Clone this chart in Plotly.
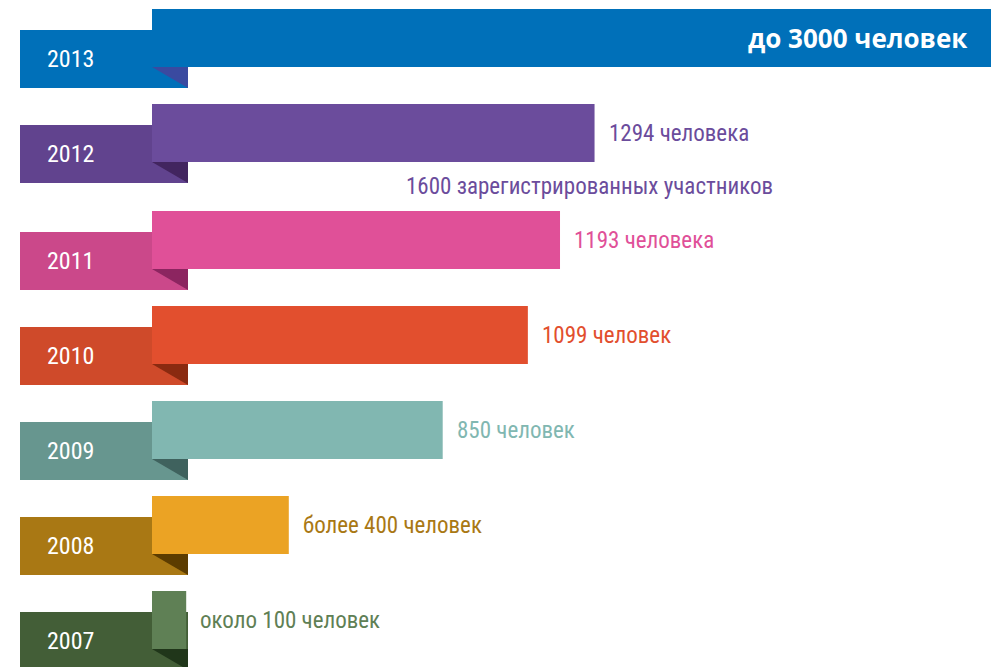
import plotly.graph_objects as go

# ---- data ----
years = ["2013", "2012", "2011", "2010", "2009", "2008", "2007"]
participants = [3000, 1294, 1193, 1099, 850, 400, 100]
value_labels = ["до 3000 человек", "1294 человека", "1193 человека", "1099 человек",
                "850 человек", "более 400 человек", "около 100 человек"]
extra_note = "1600 зарегистрированных участников"

bar_colors = ["#0070b9", "#6b4c9c", "#e05098", "#e24f2e", "#81b7b1", "#eba324", "#5f8055"]
tab_colors = ["#0070b9", "#61438e", "#cb488a", "#cf4a2a", "#67968f", "#a97814", "#435e37"]
fold_colors = ["#3a4aa0", "#42255f", "#8c2560", "#8a2a10", "#3f625e", "#5c3c00", "#20361a"]
text_colors = ["#ffffff", "#6b4c9c", "#e05098", "#e24f2e", "#81b7b1", "#a97814", "#5f8055"]

# ---- layout constants (page has an 8px body margin) ----
OFF = 8
W, H = 999 - OFF, 667 - OFF
PX_PER_UNIT = 0.342          # horizontal scale
ZERO_PX = 152 - OFF          # where the bars start
ROW_PX = 95.0                # row pitch in pixels
FIRST_ROW_PX = 38.0 - OFF    # centre of first bar from top
NOTE_GAP = 12.0 / ROW_PX     # extra space after 2012 row (note line)
BAR_W = 58.0 / ROW_PX
TAB_SHIFT = 21.0 / ROW_PX
TAB_LEFT = (20 - 152) / PX_PER_UNIT
TAB_RIGHT = (188 - 152) / PX_PER_UNIT
RIGHT_MARGIN = 2

rows = [i + (NOTE_GAP if i >= 2 else 0.0) for i in range(len(years))]

x_min = -ZERO_PX / PX_PER_UNIT
x_max = (W - RIGHT_MARGIN - ZERO_PX) / PX_PER_UNIT
y_top = -FIRST_ROW_PX / ROW_PX
y_bot = (H - FIRST_ROW_PX) / ROW_PX

narrow = "Liberation Sans Narrow, Arial Narrow, Roboto Condensed, Liberation Sans, sans-serif"

fig = go.Figure()

# year tabs
fig.add_trace(go.Bar(
    y=rows, x=[TAB_RIGHT - TAB_LEFT] * len(rows), base=[TAB_LEFT] * len(rows),
    orientation="h", width=BAR_W, offset=-BAR_W / 2 + TAB_SHIFT,
    marker=dict(color=tab_colors, line=dict(width=0)), hoverinfo="skip", showlegend=False))

# value bars
fig.add_trace(go.Bar(
    y=rows, x=participants, base=0, orientation="h", width=BAR_W, offset=-BAR_W / 2,
    marker=dict(color=bar_colors, line=dict(width=0)), hoverinfo="skip", showlegend=False))

# folded corners
for r, c in zip(rows, fold_colors):
    yb = r + BAR_W / 2
    fig.add_trace(go.Scatter(
        x=[0, TAB_RIGHT, TAB_RIGHT, 0], y=[yb, yb, yb + TAB_SHIFT, yb],
        mode="lines", fill="toself", fillcolor=c, line=dict(width=0, color=c),
        hoverinfo="skip", showlegend=False))

# year labels
for r, yr in zip(rows, years):
    fig.add_annotation(x=TAB_LEFT, y=r + TAB_SHIFT, text=yr, showarrow=False,
                       xanchor="left", yanchor="middle", xshift=25,
                       font=dict(family=narrow, size=24, color="#ffffff"))

# value labels
for i, (r, v, t, c) in enumerate(zip(rows, participants, value_labels, text_colors)):
    if i == 0:
        fig.add_annotation(xref="paper", x=(970 - OFF) / (W - RIGHT_MARGIN), y=r,
                           text="<b>" + t + "</b>",
                           showarrow=False, xanchor="right", yanchor="middle",
                           font=dict(family="Open Sans, sans-serif", size=26, color=c))
    else:
        fig.add_annotation(x=v, y=r, text=t, showarrow=False, xanchor="left",
                           yanchor="middle", xshift=12,
                           font=dict(family=narrow, size=23, color=c))

# note under 2012
fig.add_annotation(x=participants[1], y=rows[1] + (186 - 133) / ROW_PX, text=extra_note,
                   showarrow=False, xanchor="right", yanchor="middle", xshift=180,
                   font=dict(family=narrow, size=23, color=text_colors[1]))

fig.update_layout(
    width=W, height=H, margin=dict(l=0, r=RIGHT_MARGIN, t=0, b=0),
    paper_bgcolor="#ffffff", plot_bgcolor="#ffffff", barmode="overlay",
    xaxis=dict(range=[x_min, x_max], visible=False, fixedrange=True),
    yaxis=dict(range=[y_bot, y_top], visible=False, fixedrange=True),
    showlegend=False,
)

fig.write_html("out.html")
